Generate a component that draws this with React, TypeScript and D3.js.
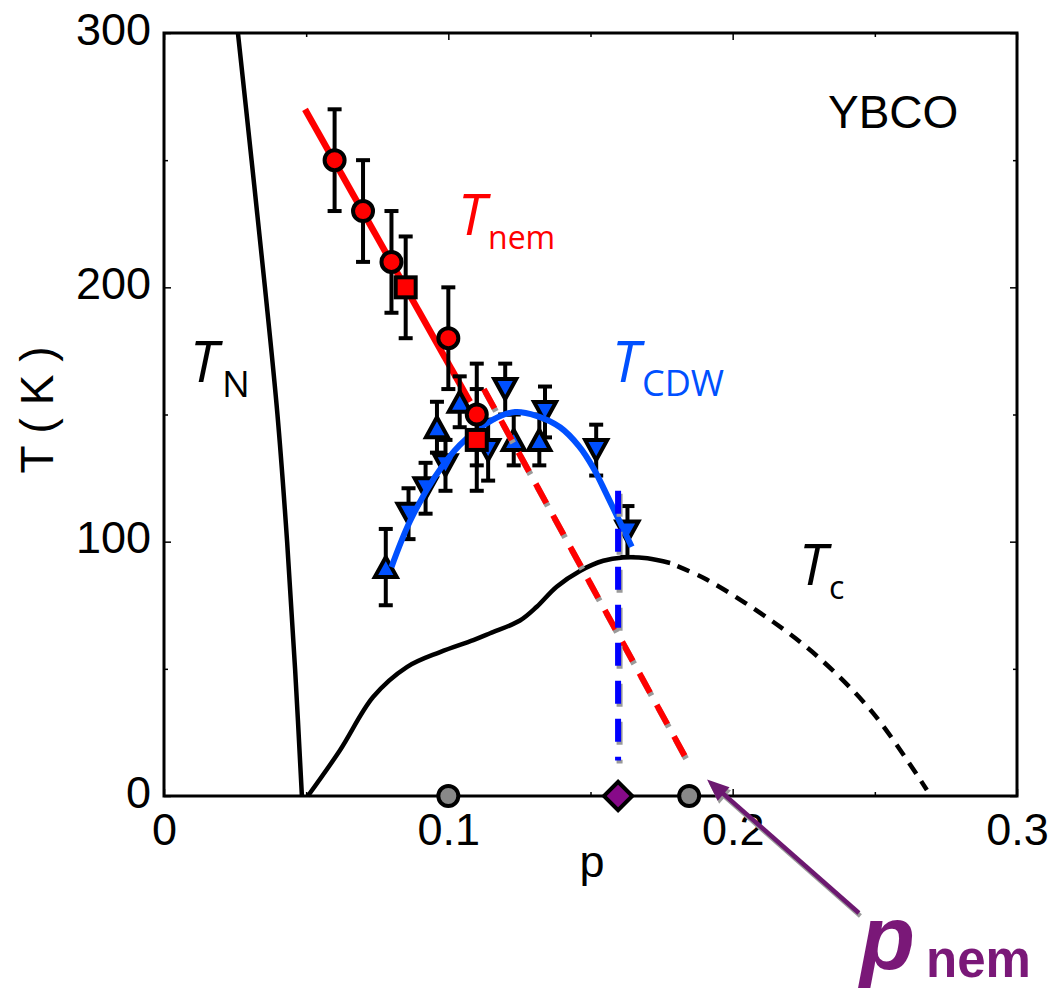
import React, { useEffect, useRef } from "react"
import * as d3 from "d3"

const WIDTH = 1055
const HEIGHT = 989

// axis ticks
const xMajor = [0, 0.1, 0.2, 0.3]
const xTickLabels = ["0", "0.1", "0.2", "0.3"]
const xMinor = [0.05, 0.15, 0.25]
const yMajor = [0, 100, 200, 300]
const yTickLabels = ["0", "100", "200", "300"]
const yMinor = [50, 150, 250]

// T_nem data (red)
const nemCircleP = [0.06, 0.07, 0.08, 0.1, 0.11]
const nemCircleT = [250, 230, 210, 180, 150]
const nemCircleErr = [20, 20, 20, 20, 20]
const nemSquareP = [0.085, 0.11]
const nemSquareT = [200, 140]
const nemSquareErr = [20, 20]

// T_CDW data (blue)
const cdwUpP = [0.078, 0.096, 0.104, 0.123, 0.132]
const cdwUpT = [90, 145, 155, 140, 140]
const cdwUpErr = [15, 10, 10, 10, 10]
const cdwDownP = [0.086, 0.092, 0.099, 0.114, 0.12, 0.134, 0.152, 0.163]
const cdwDownT = [111, 121, 130, 136, 160, 151, 136, 104]
const cdwDownErr = [10, 10, 10, 12, 10, 10, 10, 10]

// guide lines
const nemSolidP = [0.0496, 0.1076]
const nemSolidT = [270, 155]
const nemDashP = [0.1125, 0.1835]
const nemDashT = [160, 15]
const cdwCurveP = [0.08, 0.0865, 0.095, 0.104, 0.1157, 0.1235, 0.131, 0.1393, 0.146, 0.151, 0.1557, 0.1645]
const cdwCurveT = [90, 108, 125, 138, 148, 151, 149.5, 145, 137.5, 129, 118.5, 98]
const cdwEdgeP = [0.1597, 0.1597]
const cdwEdgeT = [120, 14]
const tnP = [0.026, 0.0308, 0.0355, 0.0399, 0.0433, 0.0461, 0.0485]
const tnT = [300, 250, 200, 150, 100, 50, 0]
const tcSolidP = [0.0506, 0.0619, 0.0736, 0.0854, 0.0971, 0.1088, 0.1147, 0.1252, 0.1311, 0.1381, 0.1463, 0.1545, 0.1614, 0.17, 0.178]
const tcSolidT = [0, 18, 39, 50.7, 56.6, 61.3, 64, 69, 74.4, 82.3, 88.5, 92.5, 93.8, 93.5, 91.6]
const tcDashP = [0.178, 0.191, 0.2142, 0.2307, 0.2494, 0.2683]
const tcDashT = [91.6, 85, 68.5, 54, 32.6, 2.4]

// points on the p axis
const grayP = [0.1, 0.1847]
const pnemP = 0.1597
// arrow from the p_nem label (tail) to the axis (tip), data units
const arrowFrom = [0.2444, -46]
const arrowTo = [0.191, 6.5]

const RED = "#ff0000"
const BLUE = "#0050ff"
const PURPLE = "#7a1878"
const axisFont = "'Liberation Sans', Arial, sans-serif"
const labelFont = "'Open Sans', 'Noto Sans', sans-serif"

const zip = (ps: number[], ts: number[]) => ps.map((p, i) => [p, ts[i]] as [number, number])

export default function App() {
  const ref = useRef<SVGSVGElement>(null)

  useEffect(() => {
    const svg = d3.select(ref.current!)
    svg.selectAll("*").remove()

    const x = d3.scaleLinear().domain([0, 0.3]).range([164, 1017])
    const y = d3.scaleLinear().domain([0, 300]).range([796, 33])

    const straight = d3
      .line<[number, number]>()
      .x((d) => x(d[0]))
      .y((d) => y(d[1]))
    const smooth = d3
      .line<[number, number]>()
      .x((d) => x(d[0]))
      .y((d) => y(d[1]))
      .curve(d3.curveCatmullRom)

    svg.append("rect").attr("width", WIDTH).attr("height", HEIGHT).attr("fill", "#fff")

    // ticks (inward on every side)
    const tickStyle = (g: d3.Selection<SVGGElement, unknown, null, undefined>) => {
      g.select(".domain").remove()
      g.attr("font-size", 45).attr("font-family", axisFont)
      g.selectAll("line").attr("stroke-width", 1.5)
      g.selectAll("text").attr("fill", "#000")
    }
    svg
      .append("g")
      .attr("transform", `translate(0,${y(0)})`)
      .call(d3.axisBottom(x).tickValues(xMajor).tickSize(-7).tickPadding(17).tickFormat((d, i) => xTickLabels[i]))
      .call(tickStyle)
    svg
      .append("g")
      .attr("transform", `translate(0,${y(0)})`)
      .call(d3.axisBottom(x).tickValues(xMinor).tickSize(-4).tickFormat(() => ""))
      .call(tickStyle)
    svg
      .append("g")
      .attr("transform", `translate(0,${y(300)})`)
      .call(d3.axisTop(x).tickValues(xMajor).tickSize(-7).tickFormat(() => ""))
      .call(tickStyle)
    svg
      .append("g")
      .attr("transform", `translate(0,${y(300)})`)
      .call(d3.axisTop(x).tickValues(xMinor).tickSize(-4).tickFormat(() => ""))
      .call(tickStyle)
    const yl = svg
      .append("g")
      .attr("transform", `translate(${x(0)},0)`)
      .call(d3.axisLeft(y).tickValues(yMajor).tickSize(-7).tickPadding(13).tickFormat((d, i) => yTickLabels[i]))
      .call(tickStyle)
    yl.selectAll("text").attr("dy", "0.25em")
    svg
      .append("g")
      .attr("transform", `translate(${x(0)},0)`)
      .call(d3.axisLeft(y).tickValues(yMinor).tickSize(-4).tickFormat(() => ""))
      .call(tickStyle)
    svg
      .append("g")
      .attr("transform", `translate(${x(0.3)},0)`)
      .call(d3.axisRight(y).tickValues(yMajor).tickSize(-7).tickFormat(() => ""))
      .call(tickStyle)
    svg
      .append("g")
      .attr("transform", `translate(${x(0.3)},0)`)
      .call(d3.axisRight(y).tickValues(yMinor).tickSize(-4).tickFormat(() => ""))
      .call(tickStyle)

    // black phase lines
    svg.append("path").attr("d", smooth(zip(tnP, tnT))).attr("fill", "none").attr("stroke", "#000").attr("stroke-width", 4.5)
    svg.append("path").attr("d", smooth(zip(tcSolidP, tcSolidT))).attr("fill", "none").attr("stroke", "#000").attr("stroke-width", 4.5)
    svg
      .append("path")
      .attr("d", smooth(zip(tcDashP, tcDashT)))
      .attr("fill", "none")
      .attr("stroke", "#000")
      .attr("stroke-width", 4.5)
      .attr("stroke-dasharray", "13 9")
      .attr("stroke-dashoffset", -8)

    // red solid T_nem fit
    svg
      .append("path")
      .attr("d", straight(zip(nemSolidP, nemSolidT)))
      .attr("fill", "none")
      .attr("stroke", RED)
      .attr("stroke-width", 6.5)

    const errorBars = (ps: number[], ts: number[], es: number[]) => {
      const g = svg.append("g").attr("stroke", "#000").attr("stroke-width", 4)
      const rows = ps.map((p, i) => ({ p, t: ts[i], e: es[i] }))
      g.selectAll(".v")
        .data(rows)
        .enter()
        .append("line")
        .attr("x1", (d) => x(d.p))
        .attr("x2", (d) => x(d.p))
        .attr("y1", (d) => y(d.t - d.e))
        .attr("y2", (d) => y(d.t + d.e))
      rows.forEach((d) => {
        ;[d.t - d.e, d.t + d.e].forEach((v) => {
          g.append("line")
            .attr("x1", x(d.p) - 7)
            .attr("x2", x(d.p) + 7)
            .attr("y1", y(v))
            .attr("y2", y(v))
        })
      })
    }

    const tri = (dir: number) => `M0,${-dir * 10}L11,${dir * 10}L-11,${dir * 10}Z`

    // blue CDW points
    errorBars(cdwUpP, cdwUpT, cdwUpErr)
    errorBars(cdwDownP, cdwDownT, cdwDownErr)
    svg
      .append("g")
      .selectAll("path")
      .data(zip(cdwDownP, cdwDownT))
      .enter()
      .append("path")
      .attr("transform", (d) => `translate(${x(d[0])},${y(d[1])})`)
      .attr("d", tri(-1))
      .attr("fill", BLUE)
      .attr("stroke", "#000")
      .attr("stroke-width", 4)
    svg
      .append("g")
      .selectAll("path")
      .data(zip(cdwUpP, cdwUpT))
      .enter()
      .append("path")
      .attr("transform", (d) => `translate(${x(d[0])},${y(d[1])})`)
      .attr("d", tri(1))
      .attr("fill", BLUE)
      .attr("stroke", "#000")
      .attr("stroke-width", 4)

    // blue CDW dome
    svg
      .append("path")
      .attr("d", smooth(zip(cdwCurveP, cdwCurveT)))
      .attr("fill", "none")
      .attr("stroke", BLUE)
      .attr("stroke-width", 6)

    // red nematic points
    errorBars(nemCircleP, nemCircleT, nemCircleErr)
    errorBars(nemSquareP, nemSquareT, nemSquareErr)
    svg
      .append("g")
      .selectAll("circle")
      .data(zip(nemCircleP, nemCircleT))
      .enter()
      .append("circle")
      .attr("cx", (d) => x(d[0]))
      .attr("cy", (d) => y(d[1]))
      .attr("r", 10)
      .attr("fill", RED)
      .attr("stroke", "#000")
      .attr("stroke-width", 4)
    svg
      .append("g")
      .selectAll("rect")
      .data(zip(nemSquareP, nemSquareT))
      .enter()
      .append("rect")
      .attr("x", (d) => x(d[0]) - 10)
      .attr("y", (d) => y(d[1]) - 10)
      .attr("width", 20)
      .attr("height", 20)
      .attr("fill", RED)
      .attr("stroke", "#000")
      .attr("stroke-width", 4)

    // dashed extrapolations with a drop shadow
    const shadowed = (d: string | null, color: string, dash: string) => {
      svg
        .append("path")
        .attr("d", d)
        .attr("transform", "translate(1.5,3)")
        .attr("fill", "none")
        .attr("stroke", "#9a9a9a")
        .attr("stroke-width", 6)
        .attr("stroke-dasharray", dash)
      svg
        .append("path")
        .attr("d", d)
        .attr("fill", "none")
        .attr("stroke", color)
        .attr("stroke-width", 6)
        .attr("stroke-dasharray", dash)
    }
    shadowed(straight(zip(nemDashP, nemDashT)), RED, "22 14")
    shadowed(straight(zip(cdwEdgeP, cdwEdgeT)), "#0000ff", "23 15")

    // frame
    svg
      .append("rect")
      .attr("x", x(0))
      .attr("y", y(300))
      .attr("width", x(0.3) - x(0))
      .attr("height", y(0) - y(300))
      .attr("fill", "none")
      .attr("stroke", "#000")
      .attr("stroke-width", 3)

    // markers on the p axis
    svg
      .append("g")
      .selectAll("circle")
      .data(grayP)
      .enter()
      .append("circle")
      .attr("cx", (d) => x(d))
      .attr("cy", y(0))
      .attr("r", 10)
      .attr("fill", "#888")
      .attr("stroke", "#000")
      .attr("stroke-width", 4)
    svg
      .append("path")
      .attr("d", d3.symbol().type(d3.symbolSquare).size(400)())
      .attr("transform", `translate(${x(pnemP)},${y(0)}) rotate(45)`)
      .attr("fill", "#870a89")
      .attr("stroke", "#000")
      .attr("stroke-width", 4)

    // arrow to p_nem
    const ax0 = x(arrowFrom[0]),
      ay0 = y(arrowFrom[1]),
      ax1 = x(arrowTo[0]),
      ay1 = y(arrowTo[1])
    const len = Math.hypot(ax1 - ax0, ay1 - ay0)
    const ux = (ax1 - ax0) / len,
      uy = (ay1 - ay0) / len
    const bx = ax1 - ux * 22,
      by = ay1 - uy * 22
    const head = `M${ax1},${ay1}L${bx - uy * 9},${by + ux * 9}L${bx + uy * 9},${by - ux * 9}Z`
    ;[
      { dx: 1.5, dy: 3, c: "#9a9a9a" },
      { dx: 0, dy: 0, c: "#6c1870" },
    ].forEach((s) => {
      const g = svg.append("g").attr("transform", `translate(${s.dx},${s.dy})`)
      g.append("line")
        .attr("x1", ax0)
        .attr("y1", ay0)
        .attr("x2", ax1 - ux * 18)
        .attr("y2", ay1 - uy * 18)
        .attr("stroke", s.c)
        .attr("stroke-width", 4.5)
      g.append("path").attr("d", head).attr("fill", s.c)
    })

    // text
    const txt = (
      s: string,
      tx: number,
      ty: number,
      size: number,
      fill: string,
      opts: { italic?: boolean; bold?: boolean; font?: string } = {}
    ) =>
      svg
        .append("text")
        .attr("x", tx)
        .attr("y", ty)
        .attr("font-size", size)
        .attr("font-family", opts.font ?? labelFont)
        .attr("font-style", opts.italic ? "italic" : "normal")
        .attr("font-weight", opts.bold ? "bold" : "normal")
        .attr("fill", fill)
        .text(s)

    txt("YBCO", 828, 128, 46, "#000", { font: axisFont })
    txt("T", 458, 235, 56, RED, { italic: true })
    txt("nem", 488, 249, 32, RED)
    txt("T", 612, 382, 56, BLUE, { italic: true })
    txt("CDW", 642, 396, 36, BLUE)
    txt("T", 190, 382, 56, "#000", { italic: true })
    txt("N", 222, 397, 37, "#000")
    txt("T", 799, 585, 56, "#000", { italic: true })
    txt("c", 829, 599, 32, "#000")
    txt("p", 860, 969, 90, PURPLE, { italic: true, bold: true, font: axisFont })
    txt("nem", 926, 977, 51, PURPLE, { bold: true, font: axisFont })

    txt("p", 592, 877, 45, "#000", { font: axisFont }).attr("text-anchor", "middle")
    svg
      .append("text")
      .attr("transform", "translate(53,410) rotate(-90)")
      .attr("text-anchor", "middle")
      .attr("font-size", 46)
      .attr("font-family", axisFont)
      .attr("fill", "#000")
      .text("T ( K )")
  }, [])

  return (
    <svg
      ref={ref}
      width={WIDTH}
      height={HEIGHT}
      style={{ position: "absolute", left: 0, top: 0, display: "block" }}
    />
  )
}
